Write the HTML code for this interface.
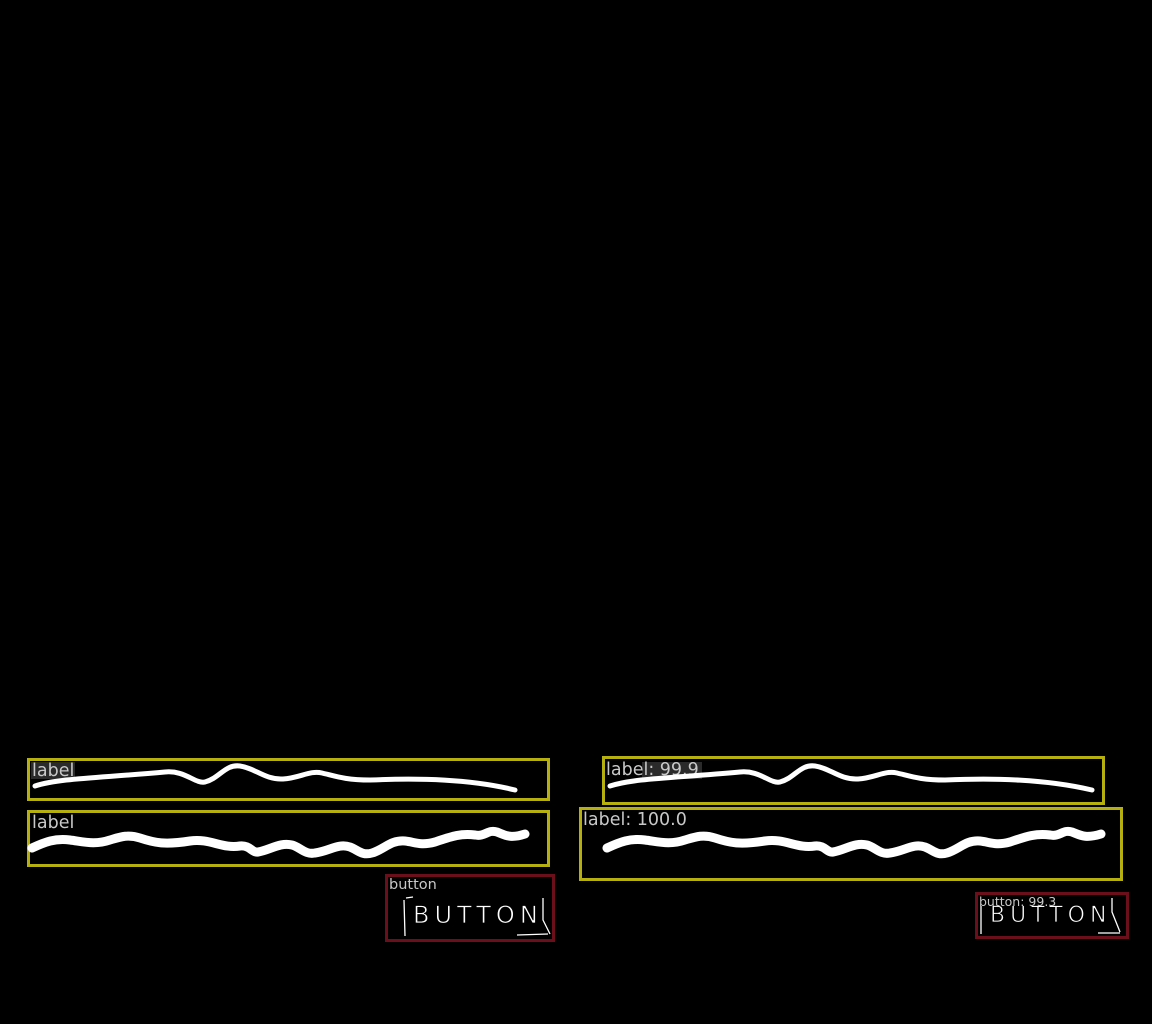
<!DOCTYPE html>
<html><head><meta charset="utf-8"><style>
html,body{margin:0;padding:0;background:#000;width:1152px;height:1024px;overflow:hidden}
svg text{font-family:"DejaVu Sans","Liberation Sans",sans-serif;fill:#c8c8c8}
</style></head><body>
<svg width="1152" height="1024" viewBox="0 0 1152 1024">
<rect width="1152" height="1024" fill="#000"/>
<!-- LEFT -->
<g>
<rect x="28.5" y="759.5" width="520" height="40" fill="none" stroke="#b5b010" stroke-width="3"/>
<rect x="31" y="762" width="44" height="17" fill="#2a2a2a"/>
<text x="32" y="776" font-size="17.5">label</text>
<path d="M35,786 C60,778 100,778 165,772 C185,770 195,784 205,782 C220,778 225,764 240,766 C255,768 265,780 283,779 C300,778 310,770 322,773 C335,776 345,780 370,780 C420,778 470,779 515,790" fill="none" stroke="#fff" stroke-width="5" stroke-linecap="round"/>
</g>
<g>
<rect x="28.5" y="811.5" width="520" height="54" fill="none" stroke="#b5b010" stroke-width="3"/>
<text x="32" y="828" font-size="17.5">label</text>
<path d="M32,848 C45,842 55,838 70,840 C85,842 95,845 110,840 C120,837 128,834 140,838 C155,843 165,845 190,841 C210,838 222,849 240,846 C250,845 252,853 258,852 C270,850 280,842 292,845 C300,847 305,855 315,853 C330,851 338,843 350,847 C358,850 362,856 372,853 C385,849 390,840 405,841 C415,842 420,846 435,842 C450,837 460,833 475,835 C485,837 488,829 497,832 C505,835 510,839 525,834" fill="none" stroke="#fff" stroke-width="9" stroke-linecap="round"/>
</g>
<g>
<rect x="386.5" y="875.5" width="167" height="65" fill="none" stroke="#6b0f1a" stroke-width="3"/>
<text x="389" y="889" font-size="14.5">button</text>
<path d="M404,900 L405,936 M406,898 L413,897 M543,898 L543,920 L550,934 M517,935 L548,934" stroke="#fff" stroke-width="1.3" fill="none"/>
<text x="413" y="923" font-size="24" font-family="Liberation Sans" style="fill:#fff;letter-spacing:5px;stroke:#000;stroke-width:0.8">BUTTON</text>
</g>
<!-- RIGHT -->
<g>
<rect x="603.5" y="757.5" width="500" height="46" fill="none" stroke="#b5b010" stroke-width="3"/>
<rect x="642" y="762" width="60" height="17" fill="#2a2a2a"/>
<text x="606" y="775" font-size="17.5">label: 99.9</text>
<path d="M610,786 C635,778 675,778 740,772 C760,770 770,784 780,782 C795,778 800,764 815,766 C830,768 840,780 858,779 C875,778 885,770 897,773 C910,776 920,780 945,780 C995,778 1045,779 1092,790" fill="none" stroke="#fff" stroke-width="5" stroke-linecap="round"/>
</g>
<g>
<rect x="580.5" y="808.5" width="541" height="71" fill="none" stroke="#b5b010" stroke-width="3"/>
<text x="583" y="825" font-size="17.5">label: 100.0</text>
<path d="M607,848 C620,842 630,838 645,840 C660,842 670,845 685,840 C695,837 703,834 715,838 C730,843 740,845 765,841 C785,838 797,849 815,846 C825,845 827,853 833,852 C845,850 855,842 867,845 C875,847 880,855 890,853 C905,851 913,843 925,847 C933,850 937,856 947,853 C960,849 965,840 980,841 C990,842 995,846 1010,842 C1025,837 1035,833 1050,835 C1060,837 1063,829 1072,832 C1080,835 1085,839 1101,834" fill="none" stroke="#fff" stroke-width="9" stroke-linecap="round"/>
</g>
<g>
<rect x="976.5" y="893.5" width="151" height="44" fill="none" stroke="#6b0f1a" stroke-width="3"/>
<path d="M981,906 L981,934 M1112,898 L1112,912 L1120,932 M1098,933 L1120,933" stroke="#fff" stroke-width="1.3" fill="none"/>
<text x="990" y="922" font-size="22" font-family="Liberation Sans" style="fill:#fff;letter-spacing:5px;stroke:#000;stroke-width:0.8">BUTTON</text>
<text x="979" y="906" font-size="12.5">button: 99.3</text>
</g>
</svg>
</body></html>
